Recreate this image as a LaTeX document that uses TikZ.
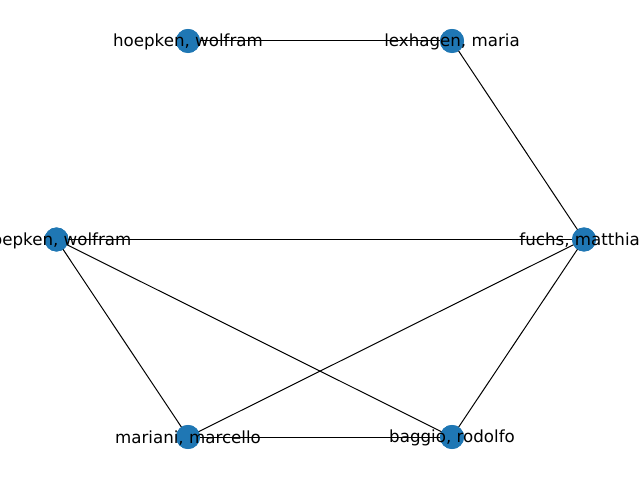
\documentclass[tikz,border=0pt]{standalone}
\usepackage{fontspec}
\setmainfont{DejaVu Sans}
\begin{document}
\begin{tikzpicture}[x=0.01in,y=-0.01in,
  vertex/.style={circle,fill={rgb,255:red,31;green,119;blue,180},draw=none,minimum size=0.24in,inner sep=0pt},
  lbl/.style={font=\fontsize{12bp}{14bp}\selectfont,text=black,inner sep=0pt,yshift=-0.01in},
  edge/.style={draw=black,line width=0.72pt}]
\useasboundingbox (0,0) rectangle (640,480);
\clip (0,0) rectangle (640,480);
\node[vertex] (h1) at (188,41) {};
\node[vertex] (lm) at (452,41) {};
\node[vertex] (h2) at (56.5,239.5) {};
\node[vertex] (fm) at (584,239.5) {};
\node[vertex] (mm) at (188,437) {};
\node[vertex] (br) at (452,437) {};
\path[edge] (h1.center) -- (lm.center);
\path[edge] (lm.center) -- (fm.center);
\path[edge] (h2.center) -- (fm.center);
\path[edge] (h2.center) -- (mm.center);
\path[edge] (h2.center) -- (br.center);
\path[edge] (fm.center) -- (mm.center);
\path[edge] (fm.center) -- (br.center);
\path[edge] (mm.center) -- (br.center);
\node[vertex] at (h1) {};
\node[vertex] at (lm) {};
\node[vertex] at (h2) {};
\node[vertex] at (fm) {};
\node[vertex] at (mm) {};
\node[vertex] at (br) {};
\node[lbl] (t1) at (h1) {hoepken, wolfram};
\node[lbl] (t2) at (lm) {lexhagen, maria};
\node[lbl] (t3) at (h2) {hoepken, wolfram};
\node[lbl] (t4) at (fm) {fuchs, matthias};
\node[lbl] (t5) at (mm) {mariani, marcello};
\node[lbl] (t6) at (br) {baggio, rodolfo};
\end{tikzpicture}
\end{document}
